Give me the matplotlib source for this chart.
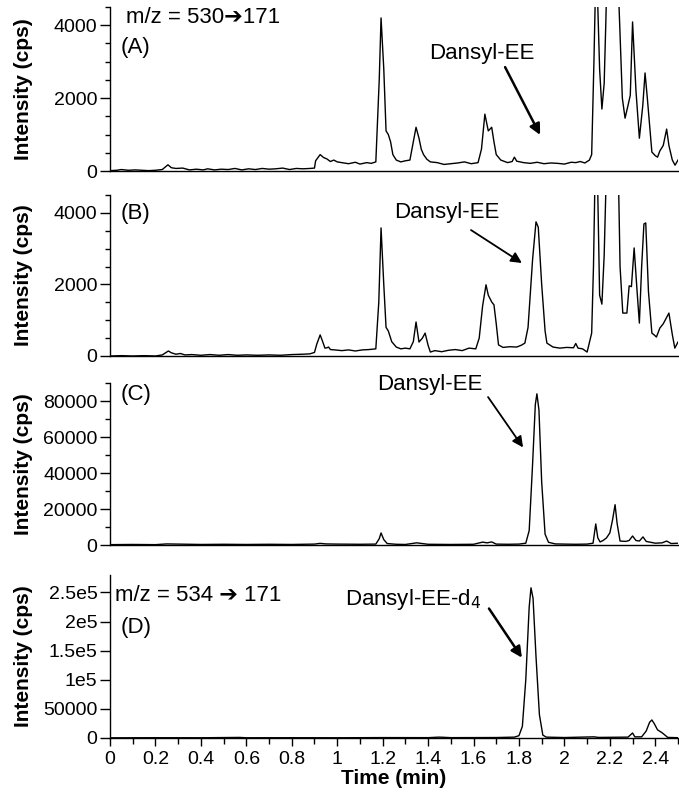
import matplotlib
matplotlib.use("Agg")
import matplotlib.pyplot as plt
from matplotlib.ticker import MultipleLocator, FuncFormatter

plt.rcParams['font.family'] = ['Liberation Sans', 'DejaVu Sans']

# ---------------- data ----------------
time_a = [0.00, 0.03, 0.05, 0.08, 0.11, 0.14, 0.17, 0.20, 0.23, 0.255, 0.27, 0.29, 0.32, 0.35, 0.38,
          0.41, 0.43, 0.46, 0.49, 0.52, 0.55, 0.58, 0.61, 0.64, 0.67, 0.70, 0.73, 0.76, 0.79, 0.82,
          0.85, 0.88, 0.90, 0.905, 0.925, 0.94, 0.955, 0.97, 0.985, 1.00, 1.02, 1.05, 1.08, 1.10,
          1.13, 1.15, 1.17, 1.185, 1.193, 1.205, 1.215, 1.225, 1.235, 1.245, 1.26, 1.28, 1.30, 1.32,
          1.335, 1.347, 1.36, 1.37, 1.38, 1.395, 1.41, 1.44, 1.47, 1.50, 1.53, 1.56, 1.59, 1.62,
          1.635, 1.65, 1.665, 1.68, 1.69, 1.70, 1.72, 1.75, 1.77, 1.78, 1.79, 1.82, 1.85, 1.88,
          1.91, 1.94, 1.97, 2.00, 2.03, 2.05, 2.07, 2.09, 2.11, 2.12, 2.13, 2.14, 2.155, 2.165,
          2.175, 2.182, 2.19, 2.21, 2.24, 2.255, 2.267, 2.28, 2.29, 2.30, 2.315, 2.33, 2.345, 2.355,
          2.365, 2.385, 2.40, 2.41, 2.42, 2.435, 2.45, 2.46, 2.475, 2.487, 2.50]
int_a = [10, 20, 40, 20, 30, 20, 10, 20, 40, 170, 90, 70, 80, 30, 50,
         30, 60, 30, 50, 40, 70, 30, 60, 40, 70, 50, 60, 80, 40, 70,
         60, 70, 80, 280, 450, 370, 330, 260, 300, 250, 230, 200, 240, 190,
         230, 210, 250, 2500, 4200, 2800, 1100, 1000, 800, 450, 300, 250, 280, 300,
         800, 1200, 900, 600, 450, 320, 250, 230, 180, 200, 220, 250, 200, 230,
         600, 1560, 1100, 1200, 800, 450, 300, 230, 260, 380, 270, 230, 210, 240,
         200, 220, 210, 190, 240, 230, 260, 220, 300, 450, 3000, 6000, 2800, 1700,
         2400, 4000, 6000, 9000, 4600, 2000, 1450, 1800, 2080, 4090, 2200, 900, 1800, 2690,
         2000, 520, 420, 380, 550, 700, 1150, 700, 300, 160, 300]

time_b = [0.00, 0.05, 0.10, 0.15, 0.20, 0.23, 0.257, 0.27, 0.29, 0.31, 0.33, 0.36, 0.40, 0.44,
          0.48, 0.52, 0.56, 0.60, 0.65, 0.70, 0.75, 0.80, 0.85, 0.88, 0.90, 0.91, 0.925, 0.935,
          0.946, 0.955, 0.962, 0.97, 0.99, 1.02, 1.05, 1.08, 1.11, 1.14, 1.17, 1.183, 1.193, 1.205,
          1.215, 1.225, 1.24, 1.26, 1.28, 1.30, 1.32, 1.335, 1.347, 1.36, 1.375, 1.387, 1.40, 1.41,
          1.43, 1.46, 1.49, 1.52, 1.55, 1.58, 1.61, 1.625, 1.64, 1.655, 1.665, 1.68, 1.69, 1.70,
          1.71, 1.73, 1.76, 1.79, 1.81, 1.826, 1.84, 1.86, 1.875, 1.885, 1.90, 1.915, 1.923, 1.95,
          1.98, 2.01, 2.04, 2.05, 2.06, 2.08, 2.10, 2.12, 2.128, 2.14, 2.155, 2.165, 2.175, 2.19,
          2.21, 2.235, 2.245, 2.257, 2.275, 2.285, 2.295, 2.307, 2.32, 2.33, 2.34, 2.35, 2.358,
          2.37, 2.385, 2.395, 2.405, 2.42, 2.435, 2.46, 2.475, 2.486, 2.50]
int_b = [0, 10, 0, 10, 0, 30, 140, 90, 50, 70, 30, 40, 20, 40,
         20, 40, 20, 30, 20, 30, 20, 40, 50, 60, 100, 330, 590, 420,
         220, 230, 250, 180, 170, 150, 170, 140, 170, 180, 200, 1500, 3580, 2000,
         800, 700, 400, 250, 200, 220, 200, 400, 950, 390, 500, 640, 300, 110,
         150, 120, 160, 180, 150, 220, 200, 500, 1400, 1990, 1700, 1510, 1430, 900,
         310, 240, 260, 250, 300, 360, 800, 2700, 3750, 3600, 2000, 700, 360, 250,
         220, 240, 230, 350, 220, 200, 110, 640, 2500, 7000, 1700, 1450, 2800, 6500,
         9000, 6000, 2500, 1200, 1200, 1960, 1940, 3020, 1800, 920, 2500, 3690, 3720,
         1800, 640, 590, 530, 780, 900, 1200, 600, 220, 390]

time_c = [0.00, 0.10, 0.20, 0.25, 0.30, 0.40, 0.50, 0.60, 0.70, 0.80, 0.90, 0.925, 0.95, 1.00,
          1.10, 1.17, 1.185, 1.193, 1.205, 1.22, 1.26, 1.30, 1.35, 1.40, 1.50, 1.60, 1.64, 1.66,
          1.68, 1.70, 1.75, 1.80, 1.83, 1.845, 1.86, 1.872, 1.879, 1.888, 1.90, 1.915, 1.93, 1.96,
          2.00, 2.05, 2.10, 2.126, 2.138, 2.147, 2.157, 2.17, 2.185, 2.20, 2.212, 2.223, 2.232,
          2.245, 2.27, 2.285, 2.30, 2.315, 2.33, 2.346, 2.36, 2.40, 2.43, 2.45, 2.47, 2.50]
int_c = [200, 300, 200, 600, 500, 300, 400, 300, 400, 300, 500, 900, 600, 500,
         400, 500, 3500, 6700, 3000, 800, 400, 300, 1200, 400, 300, 400, 1600, 1200,
         1700, 500, 400, 500, 1000, 8000, 45000, 78000, 84000, 75000, 35000, 6000, 1500, 600,
         500, 400, 500, 1000, 11700, 4000, 1700, 2500, 3900, 6700, 14000, 22400, 12000,
         2200, 2000, 2500, 5000, 2500, 2200, 4500, 2000, 1000, 1200, 2200, 800, 1000]

time_d = [0.00, 0.20, 0.40, 0.57, 0.60, 0.80, 1.00, 1.20, 1.40, 1.45, 1.50, 1.70, 1.78, 1.80,
          1.815, 1.83, 1.845, 1.853, 1.862, 1.875, 1.89, 1.905, 1.92, 2.00, 2.13, 2.15, 2.28,
          2.30, 2.31, 2.34, 2.36, 2.375, 2.385, 2.395, 2.41, 2.43, 2.455, 2.50]
int_d = [300, 500, 400, 1000, 400, 500, 400, 700, 600, 1500, 600, 800, 1500, 4000,
         20000, 100000, 225000, 258000, 240000, 140000, 40000, 5000, 1500, 800, 2000, 1000, 1500,
         8600, 2000, 2000, 12000, 27000, 31000, 25000, 14000, 9000, 1000, 500]

panel_labels = ["(A)", "(B)", "(C)", "(D)"]
transition_a = "m/z = 530\u2794171"
transition_d = "m/z = 534 \u2794 171"
x_tick_step = 0.2
# ---------------------------------------------------------------

fig = plt.figure(figsize=(6.79, 8.01), dpi=100)

left, width = 110 / 679, 568 / 679
def rect(top_px, bot_px):
    return [left, 1 - bot_px / 801, width, (bot_px - top_px) / 801]

axA = fig.add_axes(rect(7, 171))
axB = fig.add_axes(rect(195, 356))
axC = fig.add_axes(rect(383, 545))
axD = fig.add_axes(rect(575, 738))
axes = [axA, axB, axC, axD]

TICK_FS = 14
LAB_FS = 15
ANN_FS = 16
FAM = ['Liberation Sans', 'DejaVu Sans']

datasets = [(time_a, int_a), (time_b, int_b), (time_c, int_c), (time_d, int_d)]
ylims = [4500, 4500, 90000, 280000]
majors = [2000, 2000, 20000, 50000]
minors = [500, 500, 10000, None]

def fmt_d(v, pos):
    table = {0: "0", 50000: "50000", 100000: "1e5", 150000: "1.5e5",
             200000: "2e5", 250000: "2.5e5"}
    return table.get(int(round(v)), "")

for i, ax in enumerate(axes):
    t, y = datasets[i]
    ax.plot(t, y, color="black", lw=1.0, clip_on=True)
    ax.set_xlim(0, 2.5)
    ax.set_ylim(0, ylims[i])
    for s in ("top", "right"):
        ax.spines[s].set_visible(False)
    for s in ("left", "bottom"):
        ax.spines[s].set_linewidth(1.0)
    ax.yaxis.set_major_locator(MultipleLocator(majors[i]))
    if minors[i]:
        ax.yaxis.set_minor_locator(MultipleLocator(minors[i]))
    ax.tick_params(axis="y", which="major", direction="out", length=7, width=1,
                   labelsize=TICK_FS, pad=2)
    ax.tick_params(axis="y", which="minor", direction="out", length=3.6, width=1)
    if i < 3:
        ax.tick_params(axis="x", which="both", bottom=False, labelbottom=False)
        ax.yaxis.set_major_formatter(FuncFormatter(lambda v, p: "%d" % v))
    else:
        ax.yaxis.set_major_formatter(FuncFormatter(fmt_d))
        ax.xaxis.set_major_locator(MultipleLocator(x_tick_step))
        ax.xaxis.set_minor_locator(MultipleLocator(x_tick_step / 2))
        ax.xaxis.set_major_formatter(FuncFormatter(lambda v, p: "%g" % round(v, 2)))
        ax.tick_params(axis="x", which="major", direction="out", length=6, width=1,
                       labelsize=TICK_FS, pad=3)
        ax.tick_params(axis="x", which="minor", direction="out", length=4, width=1)
        ax.set_xlabel("Time (min)", fontsize=LAB_FS, fontweight="bold", labelpad=1)
    ax.set_ylabel("Intensity (cps)", fontsize=LAB_FS, fontweight="bold")
    ax.yaxis.set_label_coords(-0.135, 0.5)

arrow_kw = dict(arrowstyle="-|>", color="black", lw=1.8, mutation_scale=16,
                shrinkA=0, shrinkB=0)

# Panel A
axA.text(0.028, 0.939, transition_a, transform=axA.transAxes, family=FAM,
         fontsize=ANN_FS, va="center", ha="left")
axA.text(0.018, 0.756, panel_labels[0], transform=axA.transAxes,
         fontsize=ANN_FS, va="center", ha="left")
axA.text(1.637, 3230, "Dansyl-EE", fontsize=ANN_FS, ha="center", va="center")
axA.annotate("", xy=(1.893, 990), xytext=(1.739, 2850), arrowprops=arrow_kw)

# Panel B
axB.text(0.018, 0.888, panel_labels[1], transform=axB.transAxes,
         fontsize=ANN_FS, va="center", ha="left")
axB.text(1.483, 4000, "Dansyl-EE", fontsize=ANN_FS, ha="center", va="center")
axB.annotate("", xy=(1.813, 2600), xytext=(1.589, 3520),
             arrowprops=dict(arrow_kw, lw=1.3))

# Panel C
axC.text(0.018, 0.926, panel_labels[2], transform=axC.transAxes,
         fontsize=ANN_FS, va="center", ha="left")
axC.text(1.408, 89400, "Dansyl-EE", fontsize=ANN_FS, ha="center", va="center")
axC.annotate("", xy=(1.818, 54200), xytext=(1.664, 82200),
             arrowprops=dict(arrow_kw, lw=1.3))

# Panel D
axD.text(0.009, 0.877, transition_d, transform=axD.transAxes, family=FAM,
         fontsize=ANN_FS, va="center", ha="left")
axD.text(0.018, 0.675, panel_labels[3], transform=axD.transAxes,
         fontsize=ANN_FS, va="center", ha="left")
axD.text(1.334, 238000, "Dansyl-EE-d$_4$", fontsize=ANN_FS, ha="center", va="center")
axD.annotate("", xy=(1.813, 138000), xytext=(1.668, 222400), arrowprops=arrow_kw)

fig.savefig("out.png", dpi=100)
